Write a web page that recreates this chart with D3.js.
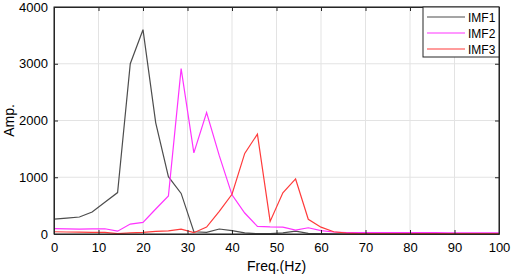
<!DOCTYPE html>
<html>
<head>
<meta charset="utf-8">
<script src="https://cdn.jsdelivr.net/npm/d3@7"></script>
<style>
  body { margin: 0; background: #fff; }
  svg text { font-family: "Liberation Sans", Arial, sans-serif; }
</style>
</head>
<body>
<div id="chart"></div>
<script>
const W = 512, H = 277;
const margin = { top: 7, right: 13, bottom: 43, left: 54 };
const width = W - margin.left - margin.right;
const height = H - margin.top - margin.bottom;

const freq = [0, 2.86, 5.71, 8.57, 11.43, 14.29, 17.14, 20, 22.86, 25.71, 28.57, 31.43,
  34.29, 37.14, 40, 42.86, 45.71, 48.57, 51.43, 54.29, 57.14, 60, 62.86, 65.71,
  68.57, 71.43, 74.29, 77.14, 80, 82.86, 85.71, 88.57, 91.43, 94.29, 97.14, 100];

const imf1 = [263, 280, 300, 386, 560, 730, 3000, 3600, 1960, 1010, 715, 40,
  30, 88, 60, 20, 5, 5, 20, 50, 10, 5, 2, 0,
  0, 0, 0, 0, 0, 0, 0, 0, 0, 0, 0, 0];

const imf2 = [93, 90, 85, 90, 92, 50, 175, 205, 440, 670, 2915, 1430,
  2140, 1380, 690, 370, 135, 125, 120, 70, 110, 60, 35, 25,
  25, 25, 25, 25, 25, 25, 25, 22, 22, 22, 22, 22];

const imf3 = [40, 35, 32, 30, 30, 5, 20, 30, 45, 55, 85, 23,
  123, 400, 700, 1420, 1760, 221, 725, 970, 260, 120, 40, 15,
  8, 5, 5, 5, 5, 5, 5, 5, 5, 5, 5, 5];

const seriesNames = ["IMF1", "IMF2", "IMF3"];
const seriesValues = [imf1, imf2, imf3];
const colors = ["#4d4d4d", "#ff33ff", "#ff3b3b"];

const xTicks = [0, 10, 20, 30, 40, 50, 60, 70, 80, 90, 100];
const yTicks = [0, 1000, 2000, 3000, 4000];

const svg = d3.select("#chart")
  .append("svg")
  .attr("width", W)
  .attr("height", H)
  .append("g")
  .attr("transform", `translate(${margin.left}, ${margin.top})`);

const x = d3.scaleLinear().domain([0, 100]).range([0, width]);
const y = d3.scaleLinear().domain([0, 4000]).range([height, 0]);

// grid
svg.append("g")
  .selectAll("line.gx")
  .data(xTicks)
  .enter().append("line")
  .attr("x1", d => x(d)).attr("x2", d => x(d))
  .attr("y1", 0).attr("y2", height)
  .attr("stroke", "#e3e3e3");

svg.append("g")
  .selectAll("line.gy")
  .data(yTicks)
  .enter().append("line")
  .attr("x1", 0).attr("x2", width)
  .attr("y1", d => y(d)).attr("y2", d => y(d))
  .attr("stroke", "#e3e3e3");

// lines
const line = d3.line()
  .x((d, i) => x(freq[i]))
  .y(d => y(d));

seriesValues.forEach((vals, k) => {
  svg.append("path")
    .datum(vals)
    .attr("fill", "none")
    .attr("stroke", colors[k])
    .attr("stroke-width", 1.2)
    .attr("d", line);
});

// axes (ticks inside, MATLAB style)
const axisColor = "#262626";
const tickLen = 4;

const xAxis = svg.append("g")
  .attr("transform", `translate(0, ${height})`)
  .call(d3.axisBottom(x).tickValues(xTicks).tickSizeInner(-tickLen).tickSizeOuter(0).tickPadding(9));
const xAxisTop = svg.append("g")
  .call(d3.axisTop(x).tickValues(xTicks).tickSizeInner(-tickLen).tickSizeOuter(0).tickFormat(""));
const yAxis = svg.append("g")
  .call(d3.axisLeft(y).tickValues(yTicks).tickFormat(d3.format("d")).tickSizeInner(-tickLen).tickSizeOuter(0).tickPadding(6));
const yAxisRight = svg.append("g")
  .attr("transform", `translate(${width}, 0)`)
  .call(d3.axisRight(y).tickValues(yTicks).tickSizeInner(-tickLen).tickSizeOuter(0).tickFormat(""));

[xAxis, xAxisTop, yAxis, yAxisRight].forEach(a => {
  a.selectAll("path, line").attr("stroke", axisColor);
  a.selectAll("text").attr("fill", "#000").style("font-size", "13px");
});

svg.append("rect")
  .attr("width", width).attr("height", height)
  .attr("fill", "none").attr("stroke", axisColor);

// labels
svg.append("text")
  .attr("x", width / 2)
  .attr("y", height + 37)
  .attr("text-anchor", "middle")
  .style("font-size", "14px")
  .text("Freq.(Hz)");

svg.append("text")
  .attr("transform", `translate(${-40}, ${height / 2}) rotate(-90)`)
  .attr("text-anchor", "middle")
  .style("font-size", "14px")
  .text("Amp.");

// legend
const lg = svg.append("g")
  .attr("transform", `translate(${width - 76}, 0)`);
lg.append("rect")
  .attr("width", 76).attr("height", 50)
  .attr("fill", "#fff").attr("stroke", axisColor);

seriesNames.forEach((name, k) => {
  const ly = 10 + k * 16;
  lg.append("line")
    .attr("x1", 4).attr("x2", 42)
    .attr("y1", ly).attr("y2", ly)
    .attr("stroke", colors[k]).attr("stroke-width", 1.2);
  lg.append("text")
    .attr("x", 45).attr("y", ly + 4.5)
    .style("font-size", "12px")
    .text(name);
});
</script>
</body>
</html>
